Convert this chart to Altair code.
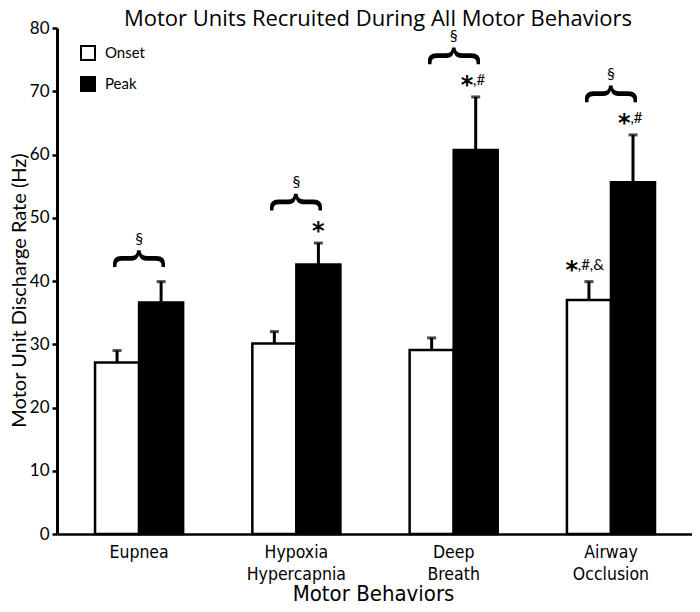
import altair as alt
import pandas as pd

# ---- data ----
chart_title = "Motor Units Recruited During All Motor Behaviors"
behaviors = ["Eupnea", "Hypoxia Hypercapnia", "Deep Breath", "Airway Occlusion"]
series = ["Onset", "Peak"]
onset_mean = [27.1, 30.1, 29.1, 37.0]
onset_upper = [29.0, 32.0, 31.0, 39.9]
peak_mean = [36.6, 42.6, 60.7, 55.6]
peak_upper = [39.9, 46.0, 69.1, 63.1]
onset_star = ["", "", "", "*"]
onset_suffix = ["", "", "", ",#,&"]
peak_star = ["", "*", "*", "*"]
peak_suffix = ["", "", ",#", ",#"]
group_mark = ["§", "§", "§", "§"]

rows = []
for i, b in enumerate(behaviors):
    rows.append(dict(behavior=b, series="Onset", mean=onset_mean[i], upper=onset_upper[i],
                     star=onset_star[i], suffix=onset_suffix[i]))
    rows.append(dict(behavior=b, series="Peak", mean=peak_mean[i], upper=peak_upper[i],
                     star=peak_star[i], suffix=peak_suffix[i]))
df = pd.DataFrame(rows)

groups = pd.DataFrame(dict(behavior=behaviors, top=peak_upper, mark=group_mark,
                           brace=["{"] * len(behaviors),
                           starred=[s != "" for s in peak_star]))
title_df = pd.DataFrame(dict(text=[chart_title]))

NARROW = "Liberation Sans Narrow, Arial Narrow, DejaVu Sans Condensed, sans-serif"
LATO = "Lato"

xscale = alt.Scale(domain=behaviors, paddingInner=0.44, paddingOuter=0.2385, align=0.507)
x_axis = alt.Axis(title="Motor Behaviors", labelExpr="split(datum.label, ' ')",
                  labelFont=NARROW, labelFontSize=17.5, labelLineHeight=22, labelPadding=9,
                  labelColor="black", labelAngle=0, labelBaseline="top", ticks=False,
                  domainColor="black", domainWidth=2.5,
                  titleFont=NARROW, titleFontSize=22, titleFontWeight="normal",
                  titleColor="black", titleX=316, titleY=59, titleBaseline="middle",
                  titleAlign="center")
y_axis = alt.Axis(values=list(range(0, 81, 10)), title="Motor Unit Discharge Rate (Hz)",
                  grid=False, labelFont=LATO, labelFontSize=17, labelColor="black",
                  labelPadding=3, tickColor="black", tickWidth=2.5, tickSize=5,
                  domainColor="black", domainWidth=3,
                  titleFont=LATO, titleFontSize=20, titleFontWeight="normal",
                  titleColor="black", titleX=-38, titleY=262, titleBaseline="middle",
                  titleAlign="center")
yscale = alt.Scale(domain=[0, 80], nice=False)
xoff = alt.XOffset("series:N", sort=series,
                   scale=alt.Scale(domain=series, paddingInner=0, paddingOuter=0))


def X():
    return alt.X("behavior:N", sort=behaviors, scale=xscale, axis=x_axis, title="Motor Behaviors")


def Y(field):
    return alt.Y(field, scale=yscale, axis=y_axis, title="Motor Unit Discharge Rate (Hz)")


base = alt.Chart(df)

bars = base.mark_bar(stroke="black", strokeWidth=2.5).encode(
    x=X(), xOffset=xoff, y=Y("mean:Q"),
    color=alt.Color("series:N", scale=alt.Scale(domain=series, range=["white", "black"]),
                    legend=alt.Legend(title=None, orient="none", legendX=23, legendY=17,
                                      symbolType="square", symbolSize=196,
                                      symbolStrokeColor="black", symbolStrokeWidth=2,
                                      labelFont=LATO, labelFontSize=15, labelColor="black",
                                      labelOffset=9, rowPadding=9, padding=0)),
)

err = base.mark_rule(color="black", strokeWidth=3).encode(
    x=X(), xOffset=xoff, y=Y("mean:Q"), y2="upper:Q")
cap = base.mark_tick(color="black", size=9, thickness=3).encode(
    x=X(), xOffset=xoff, y=Y("upper:Q"))

layers = [bars, err, cap]

# asterisk + suffix annotations, shifted so the combined string centres on the bar
for suf in sorted(set(onset_suffix + peak_suffix)):
    shift = -4.3 * len(suf)
    sub = base.transform_filter((alt.datum.star != "") & (alt.datum.suffix == suf))
    layers.append(sub.mark_text(font="DejaVu Sans", fontWeight="bold", fontSize=24,
                                color="black", align="center", baseline="alphabetic",
                                dx=shift, dy=-4).encode(
        x=X(), xOffset=xoff, y=Y("upper:Q"), text="star:N"))
    if suf:
        layers.append(sub.mark_text(font=LATO, fontSize=15, color="black", align="left",
                                    baseline="alphabetic", dx=shift + 6, dy=-12).encode(
            x=X(), xOffset=xoff, y=Y("upper:Q"), text="suffix:N"))

# braces and section marks above each group
gbase = alt.Chart(groups)
for starred, gap in [(False, 23), (True, 41)]:
    sub = gbase.transform_filter(alt.datum.starred == starred)
    layers.append(sub.mark_text(font="Liberation Sans", fontSize=56, color="black",
                                angle=90, align="center", baseline="middle",
                                dx=-gap, dy=-3).encode(
        x=X(), y=Y("top:Q"), text="brace:N"))
    layers.append(sub.mark_text(font=LATO, fontSize=16, color="black", align="center",
                                baseline="middle", dy=-(gap + 20)).encode(
        x=X(), y=Y("top:Q"), text="mark:N"))

# chart title drawn as a text mark above the plot area
layers.append(alt.Chart(title_df).mark_text(font="Open Sans", fontSize=22, color="black",
                                            align="center", baseline="middle").encode(
    x=alt.value(321), y=alt.value(-9), text="text:N"))

chart = alt.layer(*layers).properties(
    width=635, height=506,
    autosize=alt.AutoSizeParams(type="none"),
    padding={"left": 49, "top": 20, "right": 0, "bottom": 68},
).configure_view(stroke=None)

chart.save("out.html", embed_options={"renderer": "svg", "actions": False})
